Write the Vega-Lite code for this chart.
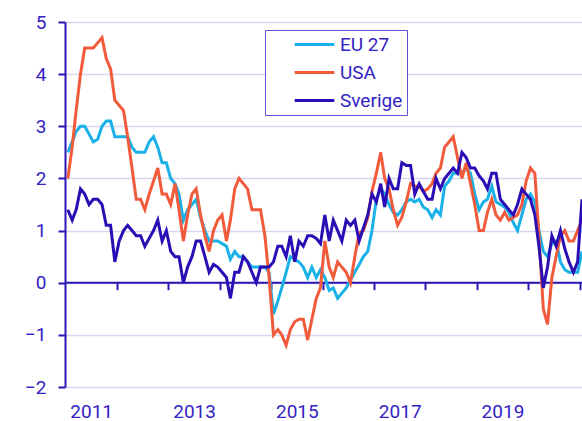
{
"$schema":"https://vega.github.io/schema/vega-lite/v6.json",
"width":517,"height":365,
"autosize":{"type":"none"},
"padding":{"left":65,"top":22,"right":0,"bottom":34},
"background":"#ffffff",
"config":{"view":{"stroke":null},"font":"Roboto",
"axis":{"labelFont":"Roboto","labelFontSize":19,"labelColor":"#3422c2","domainColor":"#2a16b4","tickColor":"#2a16b4","gridColor":"#d6d6ef","gridWidth":1.5,"domainWidth":2,"tickWidth":2,"title":null}},
"resolve":{"axis":{"x":"independent"}},
"layer":[
{"data":{"values":[{"a":"2010-12-12","b":"2021-01-01","v":0}]},
"mark":{"type":"rule","color":"#2a16b4","strokeWidth":2},
"encoding":{
"x":{"field":"a","type":"temporal","scale":{"type":"utc","domain":[{"year":2010,"month":12,"date":12,"utc":true},{"year":2021,"month":1,"date":1,"utc":true}]},
"axis":{"orient":"bottom","offset":-104.3,"values":[{"year":2011,"month":12,"date":16,"utc":true},{"year":2012,"month":12,"date":16,"utc":true},{"year":2013,"month":12,"date":16,"utc":true},{"year":2014,"month":12,"date":16,"utc":true},{"year":2015,"month":12,"date":16,"utc":true},{"year":2016,"month":12,"date":16,"utc":true},{"year":2017,"month":12,"date":16,"utc":true},{"year":2018,"month":12,"date":16,"utc":true},{"year":2019,"month":12,"date":16,"utc":true},{"year":2020,"month":12,"date":16,"utc":true}],"labels":false,"domain":false,"grid":false,"ticks":true,"tickSize":7}},
"x2":{"field":"b"},
"y":{"field":"v","type":"quantitative","scale":{"domain":[-2,5]},"axis":{"orient":"left","values":[-2,-1,0,1,2,3,4,5],"grid":true,"tickSize":7,"labelPadding":12,"domain":true}}
}},
{"data":{"values":[
{"t":"2011-01","s":"EU 27","v":2.5},{"t":"2011-02","s":"EU 27","v":2.7},{"t":"2011-03","s":"EU 27","v":2.9},{"t":"2011-04","s":"EU 27","v":3.0},{"t":"2011-05","s":"EU 27","v":3.0},{"t":"2011-06","s":"EU 27","v":2.85},{"t":"2011-07","s":"EU 27","v":2.7},{"t":"2011-08","s":"EU 27","v":2.75},{"t":"2011-09","s":"EU 27","v":3.0},{"t":"2011-10","s":"EU 27","v":3.1},{"t":"2011-11","s":"EU 27","v":3.1},{"t":"2011-12","s":"EU 27","v":2.8},
{"t":"2012-01","s":"EU 27","v":2.8},{"t":"2012-02","s":"EU 27","v":2.8},{"t":"2012-03","s":"EU 27","v":2.8},{"t":"2012-04","s":"EU 27","v":2.6},{"t":"2012-05","s":"EU 27","v":2.5},{"t":"2012-06","s":"EU 27","v":2.5},{"t":"2012-07","s":"EU 27","v":2.5},{"t":"2012-08","s":"EU 27","v":2.7},{"t":"2012-09","s":"EU 27","v":2.8},{"t":"2012-10","s":"EU 27","v":2.6},{"t":"2012-11","s":"EU 27","v":2.3},{"t":"2012-12","s":"EU 27","v":2.3},
{"t":"2013-01","s":"EU 27","v":2.0},{"t":"2013-02","s":"EU 27","v":1.9},{"t":"2013-03","s":"EU 27","v":1.7},{"t":"2013-04","s":"EU 27","v":1.2},{"t":"2013-05","s":"EU 27","v":1.4},{"t":"2013-06","s":"EU 27","v":1.5},{"t":"2013-07","s":"EU 27","v":1.6},{"t":"2013-08","s":"EU 27","v":1.25},{"t":"2013-09","s":"EU 27","v":1.0},{"t":"2013-10","s":"EU 27","v":0.8},{"t":"2013-11","s":"EU 27","v":0.8},{"t":"2013-12","s":"EU 27","v":0.8},
{"t":"2014-01","s":"EU 27","v":0.75},{"t":"2014-02","s":"EU 27","v":0.7},{"t":"2014-03","s":"EU 27","v":0.45},{"t":"2014-04","s":"EU 27","v":0.6},{"t":"2014-05","s":"EU 27","v":0.5},{"t":"2014-06","s":"EU 27","v":0.5},{"t":"2014-07","s":"EU 27","v":0.4},{"t":"2014-08","s":"EU 27","v":0.3},{"t":"2014-09","s":"EU 27","v":0.3},{"t":"2014-10","s":"EU 27","v":0.3},{"t":"2014-11","s":"EU 27","v":0.3},{"t":"2014-12","s":"EU 27","v":0.2},
{"t":"2015-01","s":"EU 27","v":-0.6},{"t":"2015-02","s":"EU 27","v":-0.35},{"t":"2015-03","s":"EU 27","v":-0.1},{"t":"2015-04","s":"EU 27","v":0.2},{"t":"2015-05","s":"EU 27","v":0.5},{"t":"2015-06","s":"EU 27","v":0.45},{"t":"2015-07","s":"EU 27","v":0.4},{"t":"2015-08","s":"EU 27","v":0.3},{"t":"2015-09","s":"EU 27","v":0.1},{"t":"2015-10","s":"EU 27","v":0.3},{"t":"2015-11","s":"EU 27","v":0.1},{"t":"2015-12","s":"EU 27","v":0.25},
{"t":"2016-01","s":"EU 27","v":0.1},{"t":"2016-02","s":"EU 27","v":-0.15},{"t":"2016-03","s":"EU 27","v":-0.1},{"t":"2016-04","s":"EU 27","v":-0.3},{"t":"2016-05","s":"EU 27","v":-0.2},{"t":"2016-06","s":"EU 27","v":-0.1},{"t":"2016-07","s":"EU 27","v":0.05},{"t":"2016-08","s":"EU 27","v":0.2},{"t":"2016-09","s":"EU 27","v":0.35},{"t":"2016-10","s":"EU 27","v":0.5},{"t":"2016-11","s":"EU 27","v":0.6},{"t":"2016-12","s":"EU 27","v":1.0},
{"t":"2017-01","s":"EU 27","v":1.6},{"t":"2017-02","s":"EU 27","v":1.8},{"t":"2017-03","s":"EU 27","v":1.7},{"t":"2017-04","s":"EU 27","v":1.5},{"t":"2017-05","s":"EU 27","v":1.35},{"t":"2017-06","s":"EU 27","v":1.3},{"t":"2017-07","s":"EU 27","v":1.4},{"t":"2017-08","s":"EU 27","v":1.55},{"t":"2017-09","s":"EU 27","v":1.6},{"t":"2017-10","s":"EU 27","v":1.55},{"t":"2017-11","s":"EU 27","v":1.6},{"t":"2017-12","s":"EU 27","v":1.45},
{"t":"2018-01","s":"EU 27","v":1.4},{"t":"2018-02","s":"EU 27","v":1.25},{"t":"2018-03","s":"EU 27","v":1.4},{"t":"2018-04","s":"EU 27","v":1.3},{"t":"2018-05","s":"EU 27","v":1.85},{"t":"2018-06","s":"EU 27","v":1.95},{"t":"2018-07","s":"EU 27","v":2.1},{"t":"2018-08","s":"EU 27","v":2.1},{"t":"2018-09","s":"EU 27","v":2.1},{"t":"2018-10","s":"EU 27","v":2.2},{"t":"2018-11","s":"EU 27","v":2.1},{"t":"2018-12","s":"EU 27","v":1.7},
{"t":"2019-01","s":"EU 27","v":1.4},{"t":"2019-02","s":"EU 27","v":1.55},{"t":"2019-03","s":"EU 27","v":1.6},{"t":"2019-04","s":"EU 27","v":1.85},{"t":"2019-05","s":"EU 27","v":1.55},{"t":"2019-06","s":"EU 27","v":1.5},{"t":"2019-07","s":"EU 27","v":1.45},{"t":"2019-08","s":"EU 27","v":1.35},{"t":"2019-09","s":"EU 27","v":1.15},{"t":"2019-10","s":"EU 27","v":1.0},{"t":"2019-11","s":"EU 27","v":1.3},{"t":"2019-12","s":"EU 27","v":1.6},
{"t":"2020-01","s":"EU 27","v":1.7},{"t":"2020-02","s":"EU 27","v":1.55},{"t":"2020-03","s":"EU 27","v":1.0},{"t":"2020-04","s":"EU 27","v":0.6},{"t":"2020-05","s":"EU 27","v":0.5},{"t":"2020-06","s":"EU 27","v":0.75},{"t":"2020-07","s":"EU 27","v":0.8},{"t":"2020-08","s":"EU 27","v":0.4},{"t":"2020-09","s":"EU 27","v":0.25},{"t":"2020-10","s":"EU 27","v":0.2},{"t":"2020-11","s":"EU 27","v":0.2},{"t":"2020-12","s":"EU 27","v":0.2},{"t":"2021-01","s":"EU 27","v":0.6},
{"t":"2011-01","s":"USA","v":2.0},{"t":"2011-02","s":"USA","v":2.6},{"t":"2011-03","s":"USA","v":3.3},{"t":"2011-04","s":"USA","v":4.0},{"t":"2011-05","s":"USA","v":4.5},{"t":"2011-06","s":"USA","v":4.5},{"t":"2011-07","s":"USA","v":4.5},{"t":"2011-08","s":"USA","v":4.6},{"t":"2011-09","s":"USA","v":4.7},{"t":"2011-10","s":"USA","v":4.3},{"t":"2011-11","s":"USA","v":4.1},{"t":"2011-12","s":"USA","v":3.5},
{"t":"2012-01","s":"USA","v":3.4},{"t":"2012-02","s":"USA","v":3.3},{"t":"2012-03","s":"USA","v":2.8},{"t":"2012-04","s":"USA","v":2.2},{"t":"2012-05","s":"USA","v":1.6},{"t":"2012-06","s":"USA","v":1.6},{"t":"2012-07","s":"USA","v":1.4},{"t":"2012-08","s":"USA","v":1.7},{"t":"2012-09","s":"USA","v":1.95},{"t":"2012-10","s":"USA","v":2.2},{"t":"2012-11","s":"USA","v":1.7},{"t":"2012-12","s":"USA","v":1.7},
{"t":"2013-01","s":"USA","v":1.5},{"t":"2013-02","s":"USA","v":1.9},{"t":"2013-03","s":"USA","v":1.4},{"t":"2013-04","s":"USA","v":0.8},{"t":"2013-05","s":"USA","v":1.3},{"t":"2013-06","s":"USA","v":1.7},{"t":"2013-07","s":"USA","v":1.8},{"t":"2013-08","s":"USA","v":1.3},{"t":"2013-09","s":"USA","v":0.9},{"t":"2013-10","s":"USA","v":0.6},{"t":"2013-11","s":"USA","v":1.0},{"t":"2013-12","s":"USA","v":1.2},
{"t":"2014-01","s":"USA","v":1.3},{"t":"2014-02","s":"USA","v":0.8},{"t":"2014-03","s":"USA","v":1.2},{"t":"2014-04","s":"USA","v":1.8},{"t":"2014-05","s":"USA","v":2.0},{"t":"2014-06","s":"USA","v":1.9},{"t":"2014-07","s":"USA","v":1.8},{"t":"2014-08","s":"USA","v":1.4},{"t":"2014-09","s":"USA","v":1.4},{"t":"2014-10","s":"USA","v":1.4},{"t":"2014-11","s":"USA","v":0.9},{"t":"2014-12","s":"USA","v":0.1},
{"t":"2015-01","s":"USA","v":-1.0},{"t":"2015-02","s":"USA","v":-0.9},{"t":"2015-03","s":"USA","v":-1.0},{"t":"2015-04","s":"USA","v":-1.2},{"t":"2015-05","s":"USA","v":-0.9},{"t":"2015-06","s":"USA","v":-0.75},{"t":"2015-07","s":"USA","v":-0.7},{"t":"2015-08","s":"USA","v":-0.7},{"t":"2015-09","s":"USA","v":-1.1},{"t":"2015-10","s":"USA","v":-0.7},{"t":"2015-11","s":"USA","v":-0.3},{"t":"2015-12","s":"USA","v":-0.1},
{"t":"2016-01","s":"USA","v":0.8},{"t":"2016-02","s":"USA","v":0.3},{"t":"2016-03","s":"USA","v":0.1},{"t":"2016-04","s":"USA","v":0.4},{"t":"2016-05","s":"USA","v":0.3},{"t":"2016-06","s":"USA","v":0.2},{"t":"2016-07","s":"USA","v":0.0},{"t":"2016-08","s":"USA","v":0.5},{"t":"2016-09","s":"USA","v":0.95},{"t":"2016-10","s":"USA","v":1.0},{"t":"2016-11","s":"USA","v":1.25},{"t":"2016-12","s":"USA","v":1.75},
{"t":"2017-01","s":"USA","v":2.1},{"t":"2017-02","s":"USA","v":2.5},{"t":"2017-03","s":"USA","v":2.0},{"t":"2017-04","s":"USA","v":1.8},{"t":"2017-05","s":"USA","v":1.4},{"t":"2017-06","s":"USA","v":1.1},{"t":"2017-07","s":"USA","v":1.25},{"t":"2017-08","s":"USA","v":1.55},{"t":"2017-09","s":"USA","v":1.9},{"t":"2017-10","s":"USA","v":1.85},{"t":"2017-11","s":"USA","v":1.85},{"t":"2017-12","s":"USA","v":1.75},
{"t":"2018-01","s":"USA","v":1.8},{"t":"2018-02","s":"USA","v":1.9},{"t":"2018-03","s":"USA","v":2.1},{"t":"2018-04","s":"USA","v":2.2},{"t":"2018-05","s":"USA","v":2.6},{"t":"2018-06","s":"USA","v":2.7},{"t":"2018-07","s":"USA","v":2.8},{"t":"2018-08","s":"USA","v":2.4},{"t":"2018-09","s":"USA","v":2.0},{"t":"2018-10","s":"USA","v":2.3},{"t":"2018-11","s":"USA","v":1.9},{"t":"2018-12","s":"USA","v":1.5},
{"t":"2019-01","s":"USA","v":1.0},{"t":"2019-02","s":"USA","v":1.0},{"t":"2019-03","s":"USA","v":1.35},{"t":"2019-04","s":"USA","v":1.6},{"t":"2019-05","s":"USA","v":1.3},{"t":"2019-06","s":"USA","v":1.2},{"t":"2019-07","s":"USA","v":1.35},{"t":"2019-08","s":"USA","v":1.2},{"t":"2019-09","s":"USA","v":1.25},{"t":"2019-10","s":"USA","v":1.3},{"t":"2019-11","s":"USA","v":1.5},{"t":"2019-12","s":"USA","v":1.95},
{"t":"2020-01","s":"USA","v":2.2},{"t":"2020-02","s":"USA","v":2.1},{"t":"2020-03","s":"USA","v":0.9},{"t":"2020-04","s":"USA","v":-0.5},{"t":"2020-05","s":"USA","v":-0.8},{"t":"2020-06","s":"USA","v":0.1},{"t":"2020-07","s":"USA","v":0.5},{"t":"2020-08","s":"USA","v":0.9},{"t":"2020-09","s":"USA","v":1.0},{"t":"2020-10","s":"USA","v":0.8},{"t":"2020-11","s":"USA","v":0.8},{"t":"2020-12","s":"USA","v":1.0},{"t":"2021-01","s":"USA","v":1.2},
{"t":"2011-01","s":"Sverige","v":1.4},{"t":"2011-02","s":"Sverige","v":1.2},{"t":"2011-03","s":"Sverige","v":1.4},{"t":"2011-04","s":"Sverige","v":1.8},{"t":"2011-05","s":"Sverige","v":1.7},{"t":"2011-06","s":"Sverige","v":1.5},{"t":"2011-07","s":"Sverige","v":1.6},{"t":"2011-08","s":"Sverige","v":1.6},{"t":"2011-09","s":"Sverige","v":1.5},{"t":"2011-10","s":"Sverige","v":1.1},{"t":"2011-11","s":"Sverige","v":1.1},{"t":"2011-12","s":"Sverige","v":0.4},
{"t":"2012-01","s":"Sverige","v":0.8},{"t":"2012-02","s":"Sverige","v":1.0},{"t":"2012-03","s":"Sverige","v":1.1},{"t":"2012-04","s":"Sverige","v":1.0},{"t":"2012-05","s":"Sverige","v":0.9},{"t":"2012-06","s":"Sverige","v":0.9},{"t":"2012-07","s":"Sverige","v":0.7},{"t":"2012-08","s":"Sverige","v":0.85},{"t":"2012-09","s":"Sverige","v":1.0},{"t":"2012-10","s":"Sverige","v":1.2},{"t":"2012-11","s":"Sverige","v":0.8},{"t":"2012-12","s":"Sverige","v":1.0},
{"t":"2013-01","s":"Sverige","v":0.6},{"t":"2013-02","s":"Sverige","v":0.5},{"t":"2013-03","s":"Sverige","v":0.5},{"t":"2013-04","s":"Sverige","v":0.0},{"t":"2013-05","s":"Sverige","v":0.3},{"t":"2013-06","s":"Sverige","v":0.5},{"t":"2013-07","s":"Sverige","v":0.8},{"t":"2013-08","s":"Sverige","v":0.8},{"t":"2013-09","s":"Sverige","v":0.5},{"t":"2013-10","s":"Sverige","v":0.2},{"t":"2013-11","s":"Sverige","v":0.35},{"t":"2013-12","s":"Sverige","v":0.3},
{"t":"2014-01","s":"Sverige","v":0.2},{"t":"2014-02","s":"Sverige","v":0.1},{"t":"2014-03","s":"Sverige","v":-0.3},{"t":"2014-04","s":"Sverige","v":0.2},{"t":"2014-05","s":"Sverige","v":0.2},{"t":"2014-06","s":"Sverige","v":0.5},{"t":"2014-07","s":"Sverige","v":0.4},{"t":"2014-08","s":"Sverige","v":0.2},{"t":"2014-09","s":"Sverige","v":0.0},{"t":"2014-10","s":"Sverige","v":0.3},{"t":"2014-11","s":"Sverige","v":0.3},{"t":"2014-12","s":"Sverige","v":0.3},
{"t":"2015-01","s":"Sverige","v":0.4},{"t":"2015-02","s":"Sverige","v":0.7},{"t":"2015-03","s":"Sverige","v":0.7},{"t":"2015-04","s":"Sverige","v":0.5},{"t":"2015-05","s":"Sverige","v":0.9},{"t":"2015-06","s":"Sverige","v":0.4},{"t":"2015-07","s":"Sverige","v":0.8},{"t":"2015-08","s":"Sverige","v":0.7},{"t":"2015-09","s":"Sverige","v":0.9},{"t":"2015-10","s":"Sverige","v":0.9},{"t":"2015-11","s":"Sverige","v":0.85},{"t":"2015-12","s":"Sverige","v":0.75},
{"t":"2016-01","s":"Sverige","v":1.3},{"t":"2016-02","s":"Sverige","v":0.8},{"t":"2016-03","s":"Sverige","v":1.2},{"t":"2016-04","s":"Sverige","v":1.0},{"t":"2016-05","s":"Sverige","v":0.8},{"t":"2016-06","s":"Sverige","v":1.2},{"t":"2016-07","s":"Sverige","v":1.1},{"t":"2016-08","s":"Sverige","v":1.2},{"t":"2016-09","s":"Sverige","v":0.8},{"t":"2016-10","s":"Sverige","v":1.05},{"t":"2016-11","s":"Sverige","v":1.3},{"t":"2016-12","s":"Sverige","v":1.7},
{"t":"2017-01","s":"Sverige","v":1.55},{"t":"2017-02","s":"Sverige","v":1.9},{"t":"2017-03","s":"Sverige","v":1.45},{"t":"2017-04","s":"Sverige","v":2.0},{"t":"2017-05","s":"Sverige","v":1.8},{"t":"2017-06","s":"Sverige","v":1.8},{"t":"2017-07","s":"Sverige","v":2.3},{"t":"2017-08","s":"Sverige","v":2.25},{"t":"2017-09","s":"Sverige","v":2.25},{"t":"2017-10","s":"Sverige","v":1.7},{"t":"2017-11","s":"Sverige","v":1.9},{"t":"2017-12","s":"Sverige","v":1.75},
{"t":"2018-01","s":"Sverige","v":1.6},{"t":"2018-02","s":"Sverige","v":1.6},{"t":"2018-03","s":"Sverige","v":2.0},{"t":"2018-04","s":"Sverige","v":1.8},{"t":"2018-05","s":"Sverige","v":2.0},{"t":"2018-06","s":"Sverige","v":2.1},{"t":"2018-07","s":"Sverige","v":2.2},{"t":"2018-08","s":"Sverige","v":2.1},{"t":"2018-09","s":"Sverige","v":2.5},{"t":"2018-10","s":"Sverige","v":2.4},{"t":"2018-11","s":"Sverige","v":2.2},{"t":"2018-12","s":"Sverige","v":2.2},
{"t":"2019-01","s":"Sverige","v":2.05},{"t":"2019-02","s":"Sverige","v":1.95},{"t":"2019-03","s":"Sverige","v":1.8},{"t":"2019-04","s":"Sverige","v":2.1},{"t":"2019-05","s":"Sverige","v":2.1},{"t":"2019-06","s":"Sverige","v":1.6},{"t":"2019-07","s":"Sverige","v":1.5},{"t":"2019-08","s":"Sverige","v":1.4},{"t":"2019-09","s":"Sverige","v":1.3},{"t":"2019-10","s":"Sverige","v":1.5},{"t":"2019-11","s":"Sverige","v":1.8},{"t":"2019-12","s":"Sverige","v":1.7},
{"t":"2020-01","s":"Sverige","v":1.6},{"t":"2020-02","s":"Sverige","v":1.3},{"t":"2020-03","s":"Sverige","v":0.7},{"t":"2020-04","s":"Sverige","v":-0.1},{"t":"2020-05","s":"Sverige","v":0.3},{"t":"2020-06","s":"Sverige","v":0.9},{"t":"2020-07","s":"Sverige","v":0.7},{"t":"2020-08","s":"Sverige","v":1.0},{"t":"2020-09","s":"Sverige","v":0.65},{"t":"2020-10","s":"Sverige","v":0.4},{"t":"2020-11","s":"Sverige","v":0.2},{"t":"2020-12","s":"Sverige","v":0.4},{"t":"2021-01","s":"Sverige","v":1.6}
]},
"mark":{"type":"line","strokeWidth":3},
"encoding":{
"x":{"field":"t","type":"temporal","scale":{"type":"utc","domain":[{"year":2010,"month":12,"date":12,"utc":true},{"year":2021,"month":1,"date":1,"utc":true}]},
"axis":{"orient":"bottom","values":[{"year":2011,"month":6,"date":16,"utc":true},{"year":2013,"month":6,"date":16,"utc":true},{"year":2015,"month":6,"date":16,"utc":true},{"year":2017,"month":6,"date":16,"utc":true},{"year":2019,"month":6,"date":16,"utc":true}],"format":"%Y","ticks":false,"domain":false,"grid":false,"labelPadding":15}},
"y":{"field":"v","type":"quantitative","scale":{"domain":[-2,5]},"axis":{"orient":"left","values":[-2,-1,0,1,2,3,4,5],"grid":true,"tickSize":7,"labelPadding":12,"domain":true}},
"color":{"field":"s","type":"nominal","scale":{"domain":["EU 27","USA","Sverige"],"range":["#1ab1e8","#f15a3a","#2b0db5"]},
"legend":{"orient":"none","legendX":200,"legendY":8,"title":" ","titleOrient":"left","titleFontSize":18,"titlePadding":26,"padding":4,"strokeColor":"#6050d8","fillColor":"#ffffff","symbolType":"M-2.2,0H2.2","symbolSize":324,"symbolStrokeWidth":3,"symbolOffset":9,"labelOffset":15,"labelFontSize":19,"labelFont":"Roboto","labelColor":"#3422c2","rowPadding":7,"labelExpr":"datum.label + '\u00a0\u00a0\u00a0\u00a0\u00a0'"}}
}}
]
}
